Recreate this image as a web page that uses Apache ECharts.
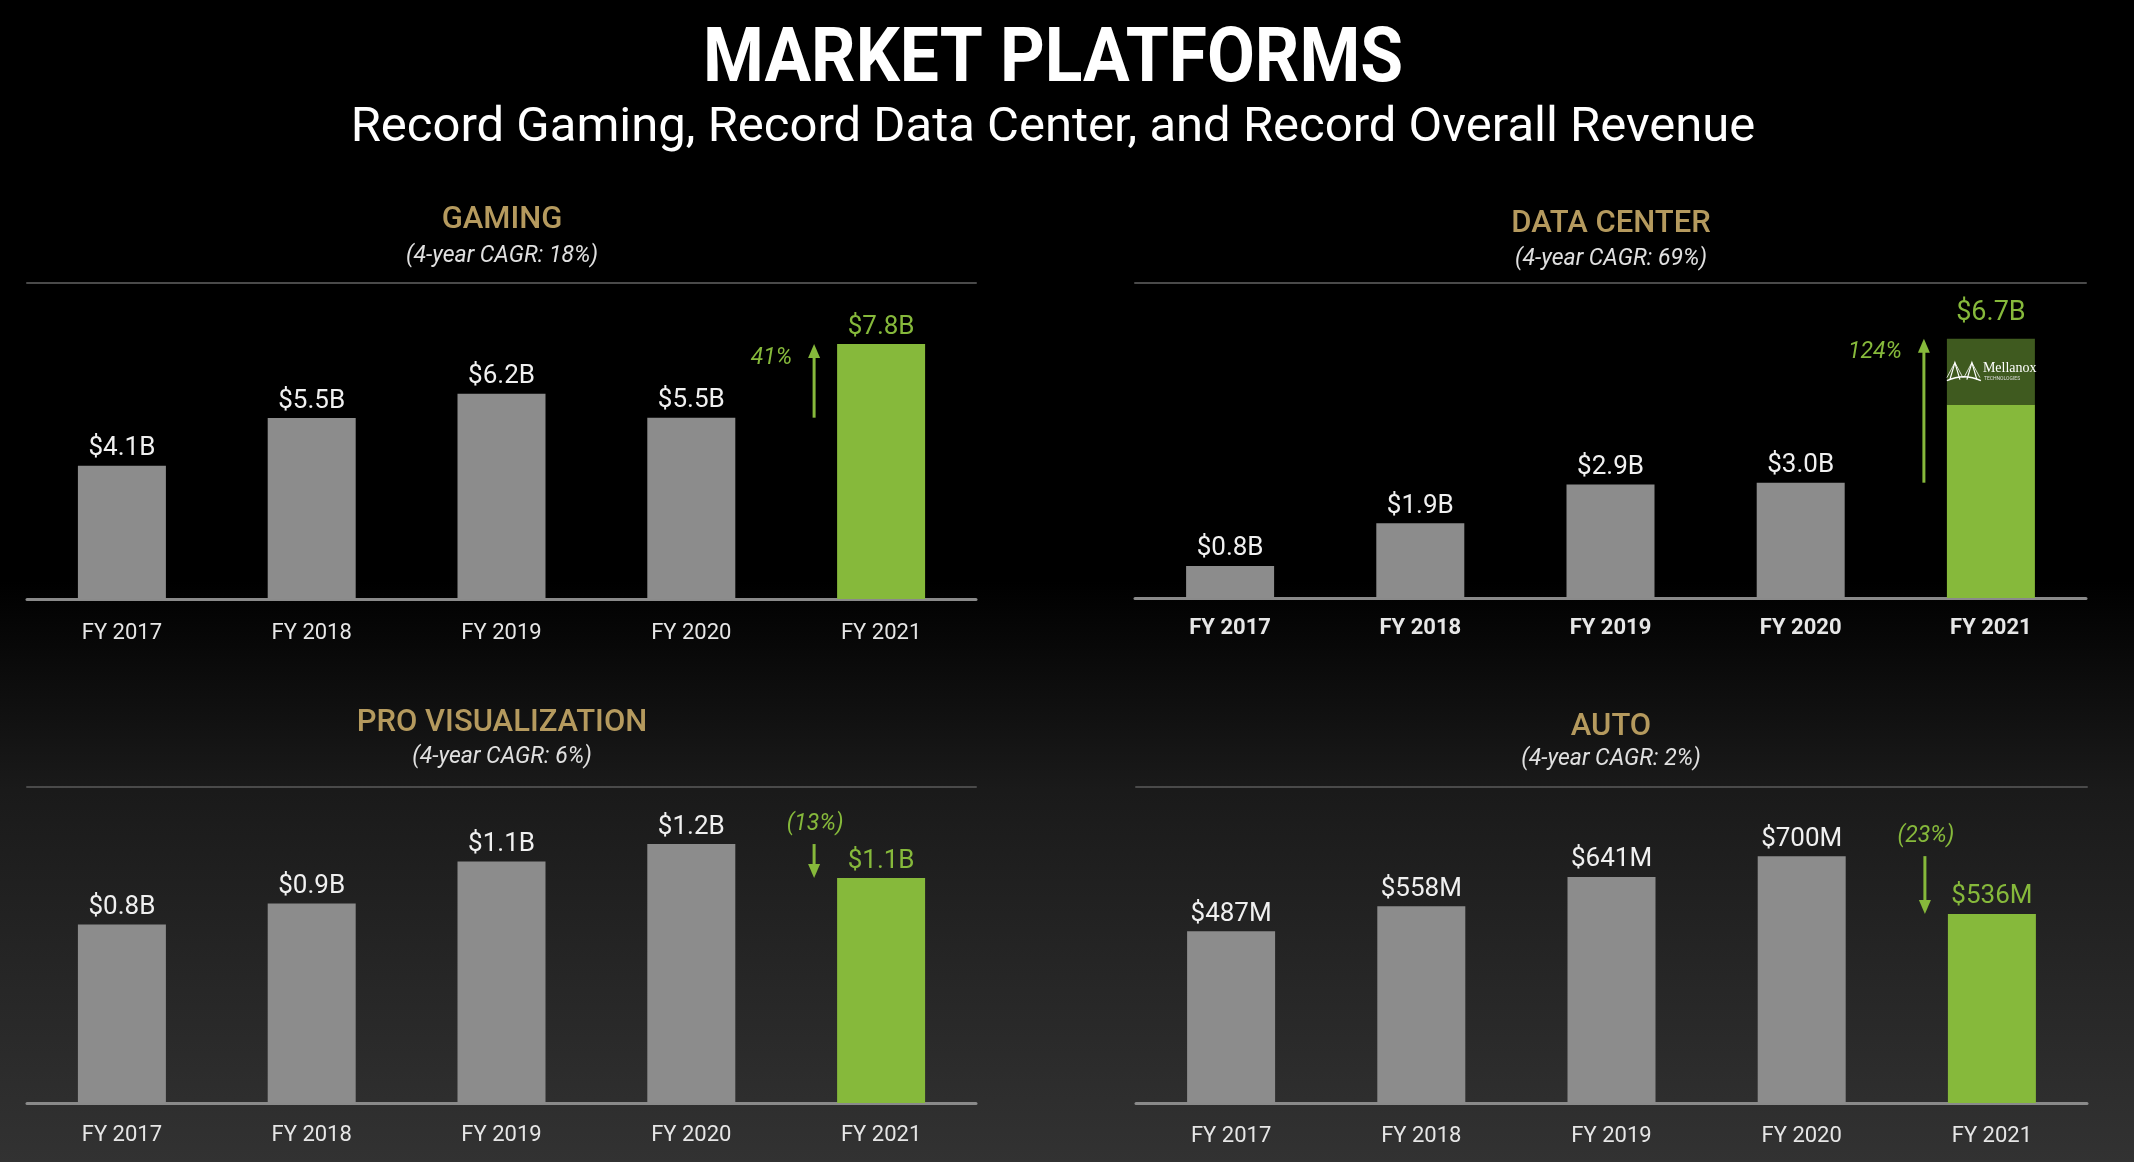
<!DOCTYPE html>
<html><head><meta charset="utf-8">
<script src="https://cdn.jsdelivr.net/npm/echarts/dist/echarts.min.js"></script>
<style>html,body{margin:0;padding:0;background:#000;overflow:hidden;} #c{width:2134px;height:1162px;}</style>
</head><body><div id="c"></div>
<script>
// ---------- data ----------
const categories = ['FY 2017', 'FY 2018', 'FY 2019', 'FY 2020', 'FY 2021'];
const gamingValues = [4.06, 5.51, 6.25, 5.52, 7.76];
const gamingLabels = ['$4.1B', '$5.5B', '$6.2B', '$5.5B', '$7.8B'];
const dataCenterCore = [0.83, 1.93, 2.93, 2.98, 5.0];
const dataCenterMellanox = [null, null, null, null, 1.7];
const dataCenterLabels = ['$0.8B', '$1.9B', '$2.9B', '$3.0B', '$6.7B'];
const proVizValues = [0.835, 0.934, 1.13, 1.212, 1.053];
const proVizLabels = ['$0.8B', '$0.9B', '$1.1B', '$1.2B', '$1.1B'];
const autoValues = [487, 558, 641, 700, 536];
const autoLabels = ['$487M', '$558M', '$641M', '$700M', '$536M'];
const panelTitles = ['GAMING', 'DATA CENTER', 'PRO VISUALIZATION', 'AUTO'];
const panelSubtitles = ['(4-year CAGR: 18%)', '(4-year CAGR: 69%)', '(4-year CAGR: 6%)', '(4-year CAGR: 2%)'];
const yoyChanges = ['41%', '124%', '(13%)', '(23%)'];
const mainTitle = 'MARKET PLATFORMS';
const mainSubtitle = 'Record Gaming, Record Data Center, and Record Overall Revenue';

// ---------- style ----------
const FONT = 'Roboto, "Noto Sans", sans-serif';
const GRAY = '#8c8c8c';
const GREEN = '#86b93b';
const DARKGREEN = '#3f5a1f';
const GOLD = '#b59a5e';
const W = 2134, H = 1162;

const grids = [
  { left: 27, top: 283, width: 949, height: 316, max: 9.62, margin: 23, bold: false },
  { left: 1135, top: 283, width: 951, height: 315, max: 8.14, margin: 19, bold: true },
  { left: 27, top: 787, width: 949, height: 316, max: 1.479, margin: 21, bold: false },
  { left: 1136, top: 787, width: 951, height: 316, max: 896, margin: 22, bold: false }
];

const chart = echarts.init(document.getElementById('c'), null, { renderer: 'canvas', width: W, height: H });

const xAxes = [], yAxes = [];
grids.forEach((g, i) => {
  xAxes.push({
    type: 'category', gridIndex: i, data: categories, position: 'bottom',
    axisLine: { lineStyle: { color: '#8a8a8a', width: 3 } },
    axisTick: { show: false },
    axisLabel: { color: '#e6e6e6', fontSize: 22, fontFamily: FONT, fontWeight: g.bold ? 'bold' : 'normal', margin: g.margin }
  });
  xAxes.push({
    type: 'category', gridIndex: i, data: categories, position: 'top',
    axisLine: { lineStyle: { color: '#4a4a4a', width: 2 } },
    axisTick: { show: false }, axisLabel: { show: false }
  });
  yAxes.push({ type: 'value', gridIndex: i, min: 0, max: g.max, show: false });
});

function barData(values) {
  return values.map((v, i) => ({
    value: v,
    itemStyle: { color: i === values.length - 1 ? GREEN : GRAY }
  }));
}
function barLabel(labels, hideLast) {
  return {
    show: true, position: 'top', distance: 4, fontSize: 26, fontFamily: FONT,
    color: '#f0f0f0',
    formatter: p => (hideLast && p.dataIndex === labels.length - 1) ? '' : labels[p.dataIndex]
  };
}
function simpleBar(gi, values, labels) {
  const d = barData(values);
  d[d.length - 1].label = { color: GREEN };
  return {
    type: 'bar', xAxisIndex: gi * 2, yAxisIndex: gi, barWidth: 88,
    data: d, label: barLabel(labels, false), z: 3
  };
}

function arrowSeries(gi, prev, cur, text) {
  return {
    type: 'custom', xAxisIndex: gi * 2, yAxisIndex: gi, z: 6, silent: true,
    data: [[categories.length - 1, prev, cur]],
    renderItem(params, api) {
      const idx = api.value(0);
      const p0 = api.coord([idx, api.value(1)]);
      const p1 = api.coord([idx, api.value(2)]);
      const x = p0[0] - 67;
      const up = api.value(2) > api.value(1);
      const y0 = p0[1], y1 = p1[1];
      const head = 14, hw = 6;
      const txtStyle = { text, fill: GREEN, fontSize: 23, fontStyle: 'italic', fontFamily: FONT, verticalAlign: 'middle' };
      if (up) Object.assign(txtStyle, { x: x - 22, y: y1 + 14, align: 'right' });
      else Object.assign(txtStyle, { x: x + 1, y: y0 - 20, align: 'center' });
      return {
        type: 'group',
        children: [
          { type: 'line', shape: { x1: x, y1: y0, x2: x, y2: up ? y1 + head - 1 : y1 - head + 1 }, style: { stroke: GREEN, lineWidth: 3 } },
          { type: 'polygon', shape: { points: up ? [[x, y1], [x - hw, y1 + head], [x + hw, y1 + head]] : [[x, y1], [x - hw, y1 - head], [x + hw, y1 - head]] }, style: { fill: GREEN } },
          { type: 'text', style: txtStyle }
        ]
      };
    }
  };
}

function logoSeries() {
  return {
    type: 'custom', xAxisIndex: 2, yAxisIndex: 1, z: 7, silent: true,
    data: [[categories.length - 1, dataCenterCore[4], dataCenterCore[4] + dataCenterMellanox[4]]],
    renderItem(params, api) {
      const a = api.coord([api.value(0), api.value(1)]);
      const b = api.coord([api.value(0), api.value(2)]);
      const cx = a[0], cy = (a[1] + b[1]) / 2;
      const st = { stroke: '#ffffff', lineWidth: 1.2, fill: null };
      const ch = [];
      [cx - 36, cx - 19].forEach(tx => {
        ch.push({ type: 'polyline', shape: { points: [[tx - 5, cy + 8], [tx, cy - 9], [tx + 5, cy + 8]] }, style: st });
        ch.push({ type: 'line', shape: { x1: tx, y1: cy - 9, x2: tx - 8, y2: cy + 6 }, style: { stroke: '#fff', lineWidth: 0.8 } });
        ch.push({ type: 'line', shape: { x1: tx, y1: cy - 9, x2: tx + 8, y2: cy + 6 }, style: { stroke: '#fff', lineWidth: 0.8 } });
      });
      ch.push({ type: 'bezierCurve', shape: { x1: cx - 44, y1: cy + 9, x2: cx - 10, y2: cy + 9, cpx1: cx - 33, cpy1: cy + 4, cpx2: cx - 21, cpy2: cy + 4 }, style: { stroke: '#fff', lineWidth: 1.6, fill: null } });
      ch.push({ type: 'text', style: { text: 'Mellanox', x: cx - 8, y: cy - 3, fill: '#fff', fontSize: 14, fontFamily: '"Liberation Serif", "DejaVu Serif", serif', align: 'left', verticalAlign: 'middle' } });
      ch.push({ type: 'text', style: { text: 'TECHNOLOGIES', x: cx - 7, y: cy + 7, fill: '#ddd', fontSize: 5, fontFamily: FONT, align: 'left', verticalAlign: 'middle' } });
      return { type: 'group', children: ch };
    }
  };
}

const dcCore = barData(dataCenterCore);
dcCore[4].label = { show: false };
const dcMel = dataCenterMellanox.map(v => v == null ? null : { value: v, itemStyle: { color: DARKGREEN }, label: { color: GREEN, distance: 12, fontSize: 27 } });

const series = [
  simpleBar(0, gamingValues, gamingLabels),
  { type: 'bar', xAxisIndex: 2, yAxisIndex: 1, barWidth: 88, stack: 'dc', data: dcCore, label: barLabel(dataCenterLabels, true), z: 3 },
  { type: 'bar', xAxisIndex: 2, yAxisIndex: 1, barWidth: 88, stack: 'dc', data: dcMel, label: barLabel(dataCenterLabels, false), z: 3 },
  simpleBar(2, proVizValues, proVizLabels),
  simpleBar(3, autoValues, autoLabels),
  arrowSeries(0, gamingValues[3], gamingValues[4], yoyChanges[0]),
  arrowSeries(1, dataCenterCore[3], dataCenterCore[4] + dataCenterMellanox[4], yoyChanges[1]),
  arrowSeries(2, proVizValues[3], proVizValues[4], yoyChanges[2]),
  arrowSeries(3, autoValues[3], autoValues[4], yoyChanges[3]),
  logoSeries()
];

const panelPos = [
  { x: 502, ty: 220, sy: 256 },
  { x: 1611, ty: 224, sy: 259 },
  { x: 502, ty: 723, sy: 757 },
  { x: 1611, ty: 727, sy: 759 }
];
const graphic = [
  { type: 'rect', z: -100, silent: true, shape: { x: 0, y: 0, width: W, height: H },
    style: { fill: new echarts.graphic.LinearGradient(0, 0, 0, 1, [
      { offset: 0, color: '#000000' }, { offset: 0.5, color: '#000000' },
      { offset: 0.68, color: '#1a1a1a' }, { offset: 1, color: '#323232' }]) } },
  { type: 'text', x: 1053, y: 62, scaleX: 0.915, style: { text: mainTitle, fill: '#ffffff', fontSize: 76, fontWeight: 'bold', fontFamily: FONT, align: 'center', verticalAlign: 'middle' } },
  { type: 'text', x: 1053, y: 129, style: { text: mainSubtitle, fill: '#ffffff', fontSize: 49, fontFamily: FONT, align: 'center', verticalAlign: 'middle' } }
];
panelPos.forEach((p, i) => {
  graphic.push({ type: 'text', x: p.x, y: p.ty, style: { text: panelTitles[i], fill: GOLD, fontSize: 31, fontWeight: 500, fontFamily: FONT, align: 'center', verticalAlign: 'middle' } });
  graphic.push({ type: 'text', x: p.x, y: p.sy, style: { text: panelSubtitles[i], fill: '#e0e0e0', fontSize: 23, fontStyle: 'italic', fontFamily: FONT, align: 'center', verticalAlign: 'middle' } });
});

chart.setOption({
  backgroundColor: '#000',
  animation: false,
  grid: grids.map(g => ({ left: g.left, top: g.top, width: g.width, height: g.height, containLabel: false })),
  xAxis: xAxes,
  yAxis: yAxes,
  series,
  graphic
});
</script>
</body></html>
